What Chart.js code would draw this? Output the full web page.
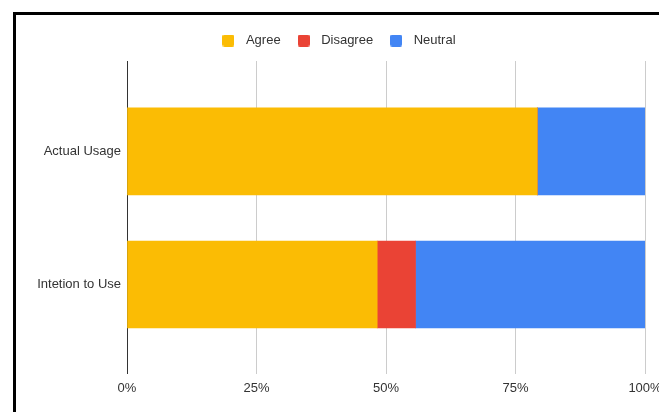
<!DOCTYPE html>
<html>
<head>
<meta charset="utf-8">
<script src="https://cdn.jsdelivr.net/npm/chart.js@4/dist/chart.umd.min.js"></script>
<style>
  html, body { margin: 0; padding: 0; background: #fff; width: 659px; height: 412px; overflow: hidden; }
  #frame { position: absolute; left: 13px; top: 12px; width: 800px; height: 500px;
           border-left: 3px solid #000; border-top: 3px solid #000; pointer-events: none; }
  #wrap { position: absolute; left: 0; top: 0; width: 659px; height: 412px; }
</style>
</head>
<body>
<div id="wrap"><canvas id="c" width="659" height="412"></canvas></div>
<div id="frame"></div>
<script>
const categories = ["Actual Usage", "Intetion to Use"];
const seriesNames = ["Agree", "Disagree", "Neutral"];
const agree = [79.2, 48.3];
const disagree = [0, 7.4];
const neutral = [20.8, 44.3];
const xTicks = [0, 25, 50, 75, 100];
const colors = ["#fbbc04", "#ea4335", "#4285f4"];

const seriesValues = [agree, disagree, neutral];

function boxImage(color) {
  const c = document.createElement('canvas');
  c.width = 12; c.height = 12;
  const g = c.getContext('2d');
  g.fillStyle = color;
  g.beginPath();
  if (g.roundRect) g.roundRect(0, 0, 12, 12, 2); else g.rect(0, 0, 12, 12);
  g.fill();
  return c;
}

const FONT = { family: "'Liberation Sans', Arial, sans-serif", size: 13 };

const datasets = seriesNames.map((name, si) => ({
  label: name,
  data: categories.map((cat, i) => ({ x: seriesValues[si][i], y: i })),
  backgroundColor: colors[si],
  borderWidth: 0,
  barThickness: 87
}));

new Chart(document.getElementById('c'), {
  type: 'bar',
  data: { datasets },
  options: {
    indexAxis: 'y',
    responsive: false,
    animation: false,
    layout: { padding: { left: 28, right: 14, top: 22, bottom: 0 } },
    plugins: {
      tooltip: { enabled: false },
      legend: {
        position: 'top',
        align: 'center',
        labels: {
          font: FONT,
          color: '#333',
          usePointStyle: true,
          pointStyleWidth: 22,
          boxHeight: 12,
          padding: 12,
          generateLabels(chart) {
            const items = Chart.defaults.plugins.legend.labels.generateLabels(chart);
            items.forEach((it, i) => { it.pointStyle = boxImage(colors[i]); it.lineWidth = 0; });
            return items;
          }
        }
      }
    },
    scales: {
      x: {
        type: 'linear',
        position: 'bottom',
        stacked: true,
        min: 0,
        max: 100,
        afterBuildTicks(s) { s.ticks = xTicks.map(v => ({ value: v })); },
        afterFit(s) { s.height = 38; s.paddingLeft = 0; s.paddingRight = 0; },
        ticks: { font: FONT, color: '#333', padding: 7, callback: v => v + '%', maxRotation: 0 },
        grid: {
          drawTicks: false,
          color: ctx => (ctx.tick && ctx.tick.value === 0) ? '#333' : '#cccccc',
          lineWidth: 1
        },
        border: { display: false }
      },
      gap: {
        type: 'linear',
        position: 'top',
        axis: 'x',
        display: true,
        afterFit(s) { s.height = 4; s.paddingLeft = 0; s.paddingRight = 0; },
        ticks: { display: false },
        grid: { display: false, drawTicks: false },
        border: { display: false }
      },
      y: {
        type: 'linear',
        stacked: true,
        reverse: true,
        offset: false,
        min: -0.68,
        max: 1.673,
        afterBuildTicks(s) { s.ticks = categories.map((c, i) => ({ value: i })); },
        afterFit(s) { s.width = 99; },
        ticks: { font: FONT, color: '#333', padding: 6, callback: v => categories[v] },
        grid: { display: false, drawTicks: false },
        border: { display: false }
      }
    }
  }
});
</script>
</body>
</html>
